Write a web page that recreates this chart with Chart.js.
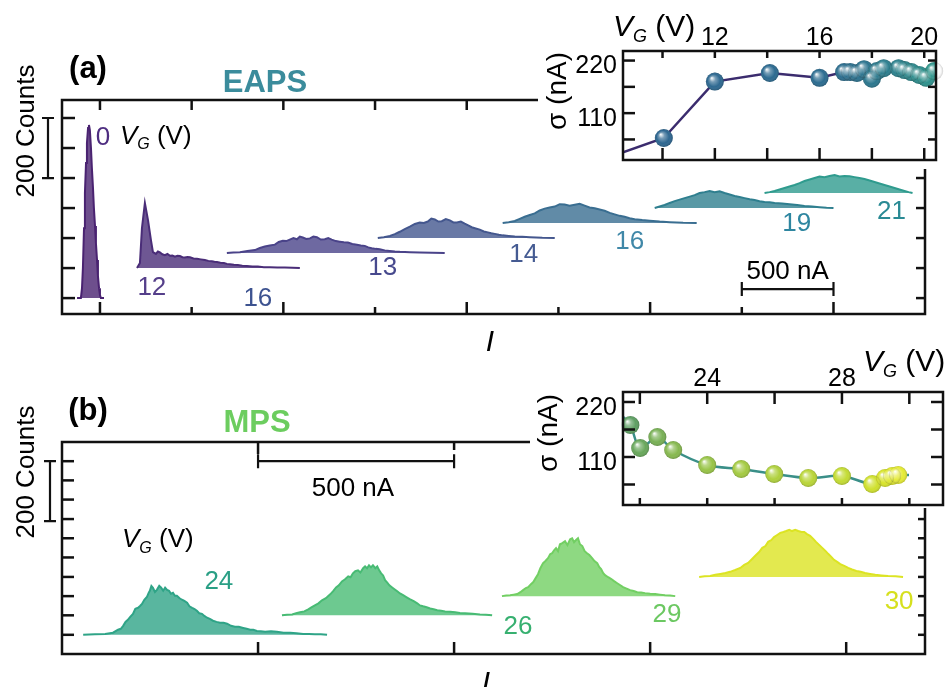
<!DOCTYPE html>
<html lang="en">
  <head>
    <meta charset="utf-8" />
    <title>EAPS / MPS current histograms</title>
    <style>
      * {
        margin: 0;
        padding: 0;
      }
      body {
        background: #fff;
        font-family: "Liberation Sans", Arial, sans-serif;
      }
      .fig {
        position: relative;
        width: 945px;
        height: 687px;
        overflow: hidden;
        background: #fff;
      }
      .fig canvas {
        position: absolute;
      }
      .lbl {
        position: absolute;
        white-space: nowrap;
        line-height: 1;
        transform: translate(-50%, -50%);
        color: #000;
      }
      .panel {
        font-weight: bold;
        font-size: 31px;
      }
      .counts {
        font-size: 26px;
        transform: translate(-50%, -50%) rotate(-90deg);
      }
      .cur {
        font-style: italic;
        font-size: 30px;
      }
    </style>
  </head>
  <body>
    <div class="fig">
      <canvas id="mainA" width="945" height="345" style="left: 0; top: 0"></canvas>
      <canvas id="mainB" width="945" height="342" style="left: 0; top: 345px"></canvas>
      <canvas id="insetA" width="407" height="169" style="left: 538px; top: 0"></canvas>
      <canvas id="insetB" width="415" height="163" style="left: 530px; top: 345px"></canvas>

      <div class="lbl panel" style="left: 88px; top: 67px">(a)</div>
      <div class="lbl panel" style="left: 265px; top: 81px; color: #3b8c9c">EAPS</div>
      <div class="lbl counts" style="left: 25px; top: 131px">200 Counts</div>
      <div class="lbl cur" style="left: 490px; top: 341px">I</div>

      <div class="lbl panel" style="left: 88px; top: 409px">(b)</div>
      <div class="lbl panel" style="left: 257px; top: 421px; color: #6ccd5f">MPS</div>
      <div class="lbl counts" style="left: 25px; top: 472px">200 Counts</div>
      <div class="lbl cur" style="left: 486px; top: 682px">I</div>
    </div>

    <script src="https://cdn.jsdelivr.net/npm/chart.js"></script>
    <script>
      const F = '"Liberation Sans", Arial, sans-serif';

      // ---------- (a) EAPS : current histograms, one per gate voltage ----------
      const eapsGates = ["0", "12", "13", "14", "16", "19", "21"];
      const eapsBase = [0, 100, 150, 200, 250, 300, 350]; // vertical offset (counts)

      const vg0Current = [-125, -104, -98, -93, -87, -82, -76, -71, -65, -60, -55, -49, -44, -38, -33, -27, -22, -16, -11, -5, 0, 5, 22];
      const vg0Counts = [0, 0, 33, 100, 233, 350, 450, 517, 567, 577, 560, 500, 433, 367, 300, 240, 183, 127, 73, 33, 10, 0, 0];

      const vg12Current = [202, 218, 229, 245, 262, 278, 289, 305, 316, 327, 340, 354, 368, 382, 395, 409, 422, 436, 450, 463, 477, 491, 510, 529, 550, 572, 591, 610, 624, 638, 657, 676, 692, 709, 730, 752, 776, 801, 831, 861, 894, 927, 967, 1008, 1050, 1090];
      const vg12Counts = [0, 17, 133, 217, 160, 93, 53, 47, 55, 52, 46, 43, 47, 41, 42, 38, 41, 40, 36, 35, 37, 36, 32, 31, 29, 27, 24, 23, 21, 20, 18, 17, 14, 13, 11, 10, 8, 7, 5, 5, 3, 3, 2, 2, 1, 0];

      const vg13Current = [692, 727, 763, 804, 845, 872, 899, 926, 954, 975, 997, 1016, 1035, 1055, 1074, 1090, 1106, 1125, 1145, 1164, 1183, 1204, 1226, 1245, 1264, 1286, 1308, 1330, 1352, 1376, 1401, 1422, 1444, 1463, 1482, 1504, 1526, 1553, 1580, 1608, 1635, 1690, 1744, 1812, 1880];
      const vg13Counts = [0, 2, 3, 7, 10, 17, 22, 25, 28, 37, 41, 40, 45, 50, 46, 55, 52, 47, 49, 55, 53, 45, 46, 50, 45, 40, 38, 36, 35, 30, 28, 25, 24, 19, 16, 14, 13, 9, 7, 5, 4, 3, 2, 1, 0];

      const vg14Current = [1515, 1548, 1581, 1608, 1635, 1662, 1690, 1717, 1744, 1766, 1788, 1807, 1826, 1845, 1864, 1886, 1908, 1927, 1946, 1968, 1989, 2008, 2027, 2049, 2071, 2093, 2115, 2134, 2153, 2175, 2196, 2229, 2262, 2303, 2344, 2412, 2480];
      const vg14Counts = [0, 3, 7, 13, 21, 30, 38, 47, 52, 50, 55, 65, 62, 55, 56, 63, 59, 52, 52, 55, 48, 42, 36, 32, 28, 22, 19, 16, 14, 11, 9, 7, 5, 4, 3, 1, 0];

      const vg16Current = [2196, 2229, 2262, 2289, 2316, 2344, 2371, 2398, 2425, 2452, 2480, 2507, 2534, 2561, 2589, 2616, 2643, 2670, 2698, 2725, 2752, 2780, 2807, 2834, 2861, 2888, 2916, 2957, 2998, 3052, 3107, 3180, 3254];
      const vg16Counts = [0, 3, 7, 14, 21, 27, 32, 42, 48, 52, 55, 63, 62, 58, 61, 64, 58, 52, 49, 45, 41, 34, 29, 24, 21, 16, 13, 10, 8, 5, 3, 1, 0];

      const vg19Current = [3025, 3052, 3079, 3107, 3134, 3161, 3188, 3216, 3243, 3270, 3297, 3325, 3352, 3379, 3406, 3434, 3461, 3488, 3515, 3543, 3570, 3597, 3624, 3652, 3679, 3720, 3761, 3802, 3842, 3883, 3924, 3962, 4000];
      const vg19Counts = [0, 5, 10, 17, 23, 28, 33, 38, 43, 50, 53, 57, 53, 56, 50, 45, 40, 37, 33, 29, 27, 23, 20, 19, 17, 15, 13, 10, 7, 5, 3, 1, 0];

      const vg21Current = [3624, 3652, 3679, 3706, 3733, 3760, 3788, 3815, 3842, 3870, 3897, 3924, 3951, 3978, 4006, 4033, 4060, 4088, 4115, 4142, 4169, 4197, 4224, 4251, 4278, 4306, 4333, 4360, 4387, 4410, 4431];
      const vg21Counts = [0, 3, 7, 12, 17, 22, 27, 33, 40, 45, 50, 55, 53, 57, 60, 55, 57, 56, 53, 50, 47, 42, 37, 32, 27, 22, 17, 12, 7, 3, 0];

      const eapsTicksX = [0, 500, 1000, 1500, 2000, 2500, 3000, 3500, 4000];
      const eapsTicksY = [0, 100, 200, 300, 400, 500, 600];

      // (a) inset : sigma vs gate voltage
      const eapsSigmaVg = [8.49, 10.05, 12, 14.1, 16, 16.94, 17.17, 17.43, 17.7, 18.0, 18.19, 18.45, 19.02, 19.25, 19.51, 19.81, 20.08, 20.38];
      const eapsSigma = [28, 58, 176, 194, 184, 196, 196, 194, 202, 182, 198, 204, 204, 200, 196, 190, 184, 198];
      const insetATicksX = [10, 12, 14, 16, 18, 20];
      const insetATickLabelsX = ["", "12", "", "16", "", "20"];
      const insetTicksY = [55, 110, 165, 220];
      const insetTickLabelsY = ["", "110", "", "220"];

      // ---------- (b) MPS ----------
      const mpsGates = ["24", "26", "29", "30"];
      const mpsBase = [64, 129, 193, 257];

      const vg24Current = [554, 584, 610, 630, 643, 650, 656, 662, 668, 674, 681, 687, 694, 699, 704, 710, 717, 721, 724, 728, 732, 737, 742, 748, 753, 758, 763, 768, 773, 778, 783, 788, 793, 800, 806, 812, 819, 825, 832, 838, 844, 850, 857, 863, 870, 877, 885, 894, 903, 912, 921, 931, 941, 951, 962, 971, 980, 988, 997, 1007, 1018, 1033, 1048, 1065, 1082, 1098, 1115, 1130, 1145, 1160, 1176];
      const vg24Counts = [0, 2, 3, 7, 17, 20, 30, 43, 50, 60, 70, 87, 90, 96, 103, 117, 127, 140, 147, 163, 157, 143, 150, 163, 157, 147, 157, 150, 147, 137, 140, 130, 130, 122, 117, 113, 107, 95, 90, 86, 80, 72, 70, 63, 57, 53, 47, 43, 40, 40, 37, 30, 27, 27, 23, 20, 17, 17, 13, 12, 10, 12, 10, 7, 7, 5, 3, 3, 2, 2, 0];

      const vg26Current = [1061, 1074, 1087, 1097, 1107, 1118, 1128, 1137, 1145, 1154, 1163, 1173, 1184, 1191, 1199, 1206, 1214, 1222, 1230, 1236, 1242, 1248, 1255, 1261, 1268, 1273, 1278, 1283, 1288, 1293, 1299, 1304, 1309, 1314, 1319, 1324, 1329, 1335, 1342, 1348, 1355, 1362, 1370, 1379, 1388, 1397, 1406, 1413, 1421, 1430, 1439, 1448, 1457, 1467, 1477, 1490, 1503, 1515, 1528, 1547, 1566, 1581, 1597];
      const vg26Counts = [0, 2, 3, 7, 10, 13, 20, 27, 33, 40, 50, 57, 70, 80, 93, 100, 113, 120, 130, 127, 140, 147, 150, 143, 157, 163, 157, 167, 160, 167, 157, 163, 150, 140, 133, 117, 110, 100, 93, 87, 80, 73, 67, 60, 53, 47, 40, 33, 30, 27, 23, 20, 17, 15, 13, 12, 10, 8, 7, 5, 3, 2, 0];

      const vg29Current = [1622, 1633, 1643, 1652, 1661, 1669, 1676, 1683, 1689, 1696, 1702, 1708, 1714, 1720, 1727, 1733, 1740, 1745, 1750, 1755, 1760, 1765, 1770, 1776, 1783, 1789, 1796, 1801, 1806, 1811, 1816, 1821, 1827, 1833, 1839, 1845, 1852, 1858, 1865, 1870, 1875, 1880, 1885, 1893, 1901, 1908, 1916, 1923, 1931, 1940, 1949, 1958, 1967, 1977, 1987, 2000, 2013, 2025, 2038, 2051, 2064];
      const vg29Counts = [0, 2, 3, 5, 7, 13, 20, 27, 30, 40, 47, 60, 73, 93, 110, 117, 127, 140, 143, 153, 160, 150, 173, 177, 183, 170, 190, 193, 180, 187, 193, 173, 167, 150, 143, 137, 127, 117, 110, 97, 90, 77, 70, 63, 57, 50, 43, 37, 30, 25, 20, 17, 13, 12, 10, 8, 7, 5, 3, 2, 0];

      const vg30Current = [2125, 2139, 2153, 2166, 2179, 2192, 2204, 2217, 2230, 2240, 2250, 2260, 2270, 2278, 2286, 2294, 2301, 2309, 2316, 2324, 2332, 2340, 2347, 2355, 2362, 2370, 2378, 2386, 2393, 2400, 2408, 2416, 2423, 2431, 2439, 2447, 2454, 2462, 2469, 2477, 2485, 2495, 2505, 2515, 2526, 2537, 2548, 2561, 2574, 2590, 2607, 2626, 2645];
      const vg30Counts = [0, 2, 3, 7, 10, 13, 17, 23, 30, 40, 47, 60, 73, 83, 97, 103, 117, 123, 133, 140, 147, 150, 153, 157, 153, 157, 153, 150, 150, 143, 137, 127, 117, 107, 97, 87, 77, 67, 57, 50, 43, 37, 30, 25, 20, 17, 13, 10, 7, 5, 3, 2, 0];

      const mpsTicksX = [1000, 1500, 2000, 2500];
      const mpsTicksY = [64, 129, 193, 257, 322, 386, 450, 515, 579, 643];

      // (b) inset
      const mpsSigmaVg = [21.51, 21.72, 22.01, 22.52, 22.99, 24.0, 25.01, 25.99, 27.0, 28.0, 28.9, 29.28, 29.49, 29.67, 29.99];
      const mpsSigma = [190, 174, 128, 150, 124, 94, 86, 76, 68, 72, 56, 68, 72, 74, 74];
      const insetBTicksX = [22, 24, 26, 28, 30];
      const insetBTickLabelsX = ["", "24", "", "28", ""];

      // ---------- styles ----------
      const eapsColors = ["#4a2371", "#4a2d78", "#4a4389", "#44578e", "#3a6e91", "#2f7f8f", "#2f9b8e"];
      const mpsColors = ["#2fa487", "#48bb74", "#72cf63", "#dce423"];
      const eapsMarkerColors = ["#2d6690", "#2d6690", "#2d6890", "#2c6a90", "#2c6c90", "#2c6e8f", "#2c708f", "#2c728f", "#2c748f", "#2c778e", "#2c7a8e", "#2c7e8e", "#2d828e", "#2d858d", "#2e898d", "#2e8d8d", "#2f928d", "#2f968c"];
      const mpsMarkerColors = ["#5d9e62", "#5d9e62", "#68a75b", "#78b055", "#86b84f", "#98c447", "#a4ca42", "#afd03d", "#b9d538", "#c3db33", "#cfe02d", "#d8e42b", "#dfe82d", "#e5eb33", "#e5eb33"];

      // draws a run of text pieces (for V_G subscripts)
      function drawRich(c, segs, x, y, align, color) {
        c.textBaseline = "middle";
        c.textAlign = "left";
        let w = 0;
        segs.forEach((s) => {
          c.font = s.font;
          w += c.measureText(s.t).width;
        });
        let cx = align === "center" ? x - w / 2 : align === "right" ? x - w : x;
        segs.forEach((s) => {
          c.font = s.font;
          c.fillStyle = s.color || color;
          c.fillText(s.t, cx, y + (s.dy || 0));
          cx += c.measureText(s.t).width;
        });
      }

      const decor = {
        id: "decor",
        beforeDraw(chart, args, o) {
          if (!o.white) return;
          const c = chart.ctx;
          c.save();
          c.fillStyle = "#fff";
          c.fillRect(0, 0, chart.width, chart.height);
          c.restore();
        },
        afterDatasetsDraw(chart, args, o) {
          const c = chart.ctx;
          const a = chart.chartArea;
          const xs = chart.scales.x;
          const ys = chart.scales.y;
          c.save();

          // glossy highlight on markers
          if (o.shine) {
            chart.getDatasetMeta(0).data.forEach((pt) => {
              const r = pt.options.radius;
              if (!r) return;
              const g = c.createRadialGradient(pt.x - r * 0.35, pt.y - r * 0.4, 0.3, pt.x, pt.y, r);
              g.addColorStop(0, "rgba(255,255,255,0.95)");
              g.addColorStop(0.3, "rgba(255,255,255,0.35)");
              g.addColorStop(0.7, "rgba(255,255,255,0)");
              g.addColorStop(1, "rgba(0,0,0,0.2)");
              c.fillStyle = g;
              c.beginPath();
              c.arc(pt.x, pt.y, r, 0, Math.PI * 2);
              c.fill();
            });
          }

          // frame + inward ticks
          c.strokeStyle = "#111";
          c.lineWidth = o.lw;
          c.strokeRect(a.left, a.top, a.right - a.left, a.bottom - a.top);
          (o.ticks || []).forEach((t) => {
            t.values.forEach((v, i) => {
              const len = Array.isArray(t.len) ? t.len[i] : t.len;
              c.beginPath();
              if (t.side === "bottom" || t.side === "top") {
                const px = xs.getPixelForValue(v);
                const y0 = t.side === "bottom" ? a.bottom : a.top;
                c.moveTo(px, y0);
                c.lineTo(px, y0 + (t.side === "bottom" ? -len : len));
              } else {
                const py = ys.getPixelForValue(v);
                const x0 = t.side === "left" ? a.left : a.right;
                c.moveTo(x0, py);
                c.lineTo(x0 + (t.side === "left" ? len : -len), py);
              }
              c.stroke();
            });
          });

          // tick labels (insets)
          c.fillStyle = "#000";
          c.font = "25px " + F;
          if (o.xLabels) {
            c.textAlign = "center";
            c.textBaseline = "middle";
            o.xLabels.values.forEach((v, i) => {
              c.fillText(o.xLabels.texts[i], xs.getPixelForValue(v), a.top - 13);
            });
          }
          if (o.yLabels) {
            c.textAlign = "right";
            c.textBaseline = "middle";
            o.yLabels.values.forEach((v, i) => {
              c.fillText(o.yLabels.texts[i], a.left - 6, ys.getPixelForValue(v) + 6);
            });
          }

          // scale bars
          c.lineWidth = 2.2;
          if (o.countBar) {
            const b = o.countBar;
            const x = a.left - b.off;
            const y1 = ys.getPixelForValue(b.from);
            const y2 = ys.getPixelForValue(b.to);
            c.beginPath();
            c.moveTo(x, y1);
            c.lineTo(x, y2);
            c.moveTo(x - b.cap, y1);
            c.lineTo(x + b.cap, y1);
            c.moveTo(x - b.cap, y2);
            c.lineTo(x + b.cap, y2);
            c.stroke();
          }
          if (o.nABar) {
            const b = o.nABar;
            const y = ys.getPixelForValue(b.at);
            const x1 = xs.getPixelForValue(b.from);
            const x2 = xs.getPixelForValue(b.to);
            c.beginPath();
            c.moveTo(x1, y);
            c.lineTo(x2, y);
            c.moveTo(x1, y - b.cap);
            c.lineTo(x1, y + b.cap);
            c.moveTo(x2, y - b.cap);
            c.lineTo(x2, y + b.cap);
            c.stroke();
          }

          // texts placed in data coords or chart-area offsets
          (o.texts || []).forEach((t) => {
            const x = t.data ? xs.getPixelForValue(t.x) : t.x;
            const y = t.data ? ys.getPixelForValue(t.y) : t.y;
            if (t.rot) {
              c.save();
              c.translate(x, y);
              c.rotate(-Math.PI / 2);
              drawRich(c, t.segs, 0, 0, "center", t.color || "#000");
              c.restore();
            } else {
              drawRich(c, t.segs, x, y, t.align || "center", t.color || "#000");
            }
          });
          c.restore();
        },
      };

      function histSets(xArr, yArr, bases, colors) {
        return xArr.map((xs, k) => ({
          data: xs.map((v, i) => ({ x: v, y: bases[k] + yArr[k][i] })),
          borderColor: colors[k],
          backgroundColor: colors[k] + "cc",
          borderWidth: 2,
          pointRadius: 0,
          tension: 0,
          fill: { value: bases[k] },
        }));
      }

      const lab = (t, size) => [{ t: t, font: size + "px " + F }];
      const vgSegs = (size, sub) => [
        { t: "V", font: "italic " + size + "px " + F },
        { t: "G", font: "italic " + sub + "px " + F, dy: sub * 0.5 },
        { t: " (V)", font: size + "px " + F },
      ];

      function baseOptions(pad, xr, yr, decorOpts) {
        return {
          responsive: false,
          animation: false,
          events: [],
          layout: { padding: pad },
          scales: {
            x: { type: "linear", display: false, min: xr[0], max: xr[1] },
            y: { type: "linear", display: false, min: yr[0], max: yr[1] },
          },
          plugins: {
            legend: { display: false },
            tooltip: { enabled: false },
            decor: decorOpts,
          },
        };
      }

      // ---------- main (a) ----------
      new Chart(document.getElementById("mainA"), {
        type: "line",
        data: {
          datasets: histSets(
            [vg0Current, vg12Current, vg13Current, vg14Current, vg16Current, vg19Current, vg21Current],
            [vg0Counts, vg12Counts, vg13Counts, vg14Counts, vg16Counts, vg19Counts, vg21Counts],
            eapsBase,
            eapsColors
          ),
        },
        options: baseOptions({ left: 62, top: 100, right: 20, bottom: 31 }, [-207, 4499], [-53, 660], {
          lw: 2.5,
          ticks: [
            { side: "bottom", values: eapsTicksX, len: eapsTicksX.map((v) => (v % 1000 === 0 ? 12 : 7)) },
            { side: "top", values: eapsTicksX, len: 10 },
            { side: "left", values: eapsTicksY, len: 13 },
            { side: "right", values: eapsTicksY, len: 9 },
          ],
          countBar: { from: 600, to: 400, off: 14, cap: 6 },
          nABar: { from: 3500, to: 4000, at: 30, cap: 7 },
          texts: [
            { data: true, x: 16, y: 533, segs: lab(eapsGates[0], 26), color: "#4e2d80" },
            { data: true, x: 109, y: 537, align: "left", segs: vgSegs(26, 16) },
            { data: true, x: 283, y: 33, segs: lab(eapsGates[1], 26), color: "#553f8a" },
            { data: true, x: 861, y: -3, segs: lab("16", 26), color: "#3d5390" },
            { data: true, x: 1542, y: 100, segs: lab(eapsGates[2], 26), color: "#47498d" },
            { data: true, x: 2311, y: 143, segs: lab(eapsGates[3], 26), color: "#455b92" },
            { data: true, x: 2889, y: 187, segs: lab(eapsGates[4], 26), color: "#4088a8" },
            { data: true, x: 3799, y: 247, segs: lab(eapsGates[5], 26), color: "#2e86a0" },
            { data: true, x: 4316, y: 287, segs: lab(eapsGates[6], 26), color: "#2a8a94" },
            { data: true, x: 3750, y: 87, segs: lab("500 nA", 26) },
          ],
        }),
        plugins: [decor],
      });

      // ---------- main (b) ----------
      new Chart(document.getElementById("mainB"), {
        type: "line",
        data: {
          datasets: histSets(
            [vg24Current, vg26Current, vg29Current, vg30Current],
            [vg24Counts, vg26Counts, vg29Counts, vg30Counts],
            mpsBase,
            mpsColors
          ),
        },
        options: baseOptions({ left: 62, top: 97, right: 20, bottom: 33 }, [500, 2701], [0, 707], {
          lw: 2.5,
          ticks: [
            { side: "bottom", values: mpsTicksX, len: 12 },
            { side: "top", values: mpsTicksX, len: [12, 8, 8, 8] },
            { side: "left", values: mpsTicksY, len: 12 },
            { side: "right", values: mpsTicksY, len: 7 },
          ],
          countBar: { from: 643, to: 443, off: 12, cap: 6 },
          nABar: { from: 1000, to: 1500, at: 643, cap: 7 },
          texts: [
            { data: true, x: 900, y: 240, segs: lab(mpsGates[0], 26), color: "#2a9f85" },
            { data: true, x: 1663, y: 90, segs: lab(mpsGates[1], 26), color: "#37b070" },
            { data: true, x: 2043, y: 130, segs: lab(mpsGates[2], 26), color: "#6cc862" },
            { data: true, x: 2635, y: 173, segs: lab(mpsGates[3], 26), color: "#d6e01e" },
            { data: true, x: 653, y: 380, align: "left", segs: vgSegs(26, 16) },
            { data: true, x: 1242, y: 550, segs: lab("500 nA", 26) },
          ],
        }),
        plugins: [decor],
      });

      // ---------- insets ----------
      function insetSet(xs, ys, colors, lineColor, tension, radius) {
        return {
          data: xs.map((v, i) => ({ x: v, y: ys[i] })),
          borderColor: lineColor,
          borderWidth: 2.5,
          tension: tension,
          pointRadius: radius,
          pointBackgroundColor: colors,
          pointBorderWidth: 0,
          fill: false,
        };
      }

      new Chart(document.getElementById("insetA"), {
        type: "line",
        data: {
          datasets: [
            insetSet(eapsSigmaVg, eapsSigma, eapsMarkerColors, "#3b2c6e", 0, eapsSigmaVg.map((v, i) => (i === 0 ? 0 : 9))),
          ],
        },
        options: baseOptions({ left: 85, top: 51, right: 5, bottom: 4 }, [8.49, 20.45], [12, 240], {
          white: true,
          shine: true,
          lw: 2.5,
          ticks: [
            { side: "top", values: insetATicksX, len: 7 },
            { side: "bottom", values: insetATicksX, len: 12 },
            { side: "left", values: insetTicksY, len: 12 },
            { side: "right", values: insetTicksY, len: 8 },
          ],
          xLabels: { values: insetATicksX, texts: insetATickLabelsX },
          yLabels: { values: insetTicksY, texts: insetTickLabelsY },
          texts: [
            { x: 20, y: 91, rot: true, segs: [{ t: "σ (nA)", font: "28px " + F }] },
            { x: 75, y: 28, align: "left", segs: vgSegs(30, 18) },
          ],
        }),
        plugins: [decor],
      });

      new Chart(document.getElementById("insetB"), {
        type: "line",
        data: {
          datasets: [
            insetSet(mpsSigmaVg, mpsSigma, mpsMarkerColors, "#3a8f88", 0.35, mpsSigmaVg.map((v, i) => (i === 0 || i === mpsSigmaVg.length - 1 ? 0 : 9))),
          ],
        },
        options: baseOptions({ left: 93, top: 47, right: 2, bottom: 3 }, [21.5, 31.0], [14, 240], {
          white: true,
          shine: true,
          lw: 2.5,
          ticks: [
            { side: "top", values: insetBTicksX, len: 12 },
            { side: "bottom", values: insetBTicksX, len: 7 },
            { side: "left", values: insetTicksY, len: 12 },
            { side: "right", values: insetTicksY, len: 12 },
          ],
          xLabels: { values: insetBTicksX, texts: insetBTickLabelsX },
          yLabels: { values: insetTicksY, texts: insetTickLabelsY },
          texts: [
            { x: 19, y: 88, rot: true, segs: [{ t: "σ (nA)", font: "28px " + F }] },
            { x: 333, y: 18, align: "left", segs: vgSegs(30, 18) },
          ],
        }),
        plugins: [decor],
      });
    </script>
  </body>
</html>
